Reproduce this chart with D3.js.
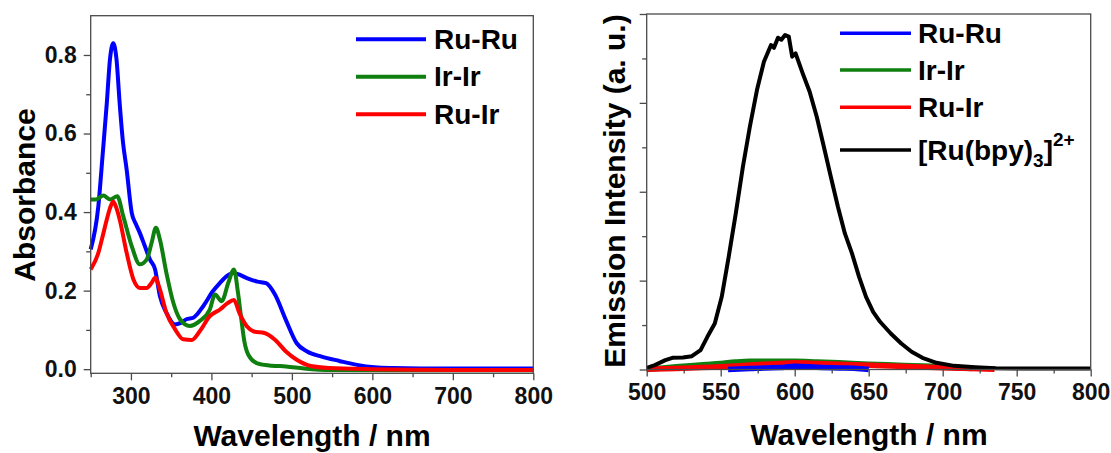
<!DOCTYPE html>
<html><head><meta charset="utf-8">
<script src="https://cdn.jsdelivr.net/npm/d3@7"></script>
<style>
html,body{margin:0;padding:0;background:#fff;}
svg{display:block;font-family:"Liberation Sans",Arial,sans-serif;font-weight:bold;}
</style></head>
<body><svg id="c" width="1111" height="453"></svg>
<script>
// ---- Absorption data (wavelength nm, absorbance) ----
const absWl_RuRu = [250,259.5,265,270,274,278,282,286,290,294.7,301,306,311,317,323.7,330,336,344,354.7,362,369,377.5,390,402,410,419,427,433,444,457,468,479,492.6,506,519,537,559,581,603,626,660,700,750,800];
const absA_RuRu  = [0.305,0.415,0.55,0.677,0.79,0.83,0.79,0.677,0.58,0.508,0.398,0.37,0.347,0.315,0.279,0.254,0.186,0.144,0.114,0.118,0.127,0.131,0.161,0.199,0.218,0.237,0.245,0.242,0.232,0.223,0.219,0.19,0.125,0.066,0.045,0.032,0.021,0.011,0.005,0.003,0.002,0.002,0.002,0.002];
const absWl_IrIr = [250,256,265.7,274,283,290.5,301,311,319.5,325.7,331,336,344,352.7,361,373,385.7,398,404.5,412.7,421,428,433,437,441,446,457,475,492.6,515,550,650,800];
const absA_IrIr  = [0.432,0.432,0.442,0.432,0.44,0.389,0.313,0.267,0.279,0.322,0.36,0.33,0.246,0.169,0.127,0.11,0.123,0.152,0.19,0.173,0.22,0.254,0.195,0.13,0.07,0.036,0.015,0.009,0.007,0.002,-0.002,-0.003,-0.003];
const absWl_RuIr = [250,259.5,265,270,274,278,282,286,294.7,303,311,319.5,325.7,330,336,344,354.7,365,375.6,385.7,398,410.7,420,428,435,444,452.7,466,479,492.6,506,523.6,546,600,700,800];
const absA_RuIr  = [0.254,0.296,0.34,0.381,0.41,0.427,0.41,0.381,0.296,0.229,0.207,0.207,0.22,0.233,0.203,0.144,0.102,0.076,0.074,0.097,0.135,0.152,0.168,0.176,0.142,0.109,0.096,0.092,0.075,0.045,0.024,0.008,0.003,0,-0.002,-0.002];

// ---- Emission data (wavelength nm, intensity a.u.) ----
const emWl_Ref = [500,505.5,512.6,517.4,524.5,530.5,536.4,541,546,550.7,555.4,560.2,565,569.7,574.5,579.2,584,586,588.7,591,593.5,596,598.3,600.6,605.4,610.1,614.9,619.7,624.4,629.2,633.9,638.7,643.5,648.2,653,657.7,664.9,672,679,686.3,695.8,707.7,722,736,750.5,774,800];
const emI_Ref  = [0.019,0.049,0.105,0.131,0.135,0.15,0.218,0.368,0.518,0.818,1.268,1.756,2.281,2.731,3.144,3.463,3.651,3.62,3.733,3.71,3.763,3.745,3.52,3.557,3.332,3.125,2.844,2.506,2.169,1.831,1.531,1.306,1.043,0.818,0.649,0.537,0.405,0.293,0.199,0.131,0.075,0.041,0.026,0.015,0.011,0.011,0.011];
const emWl_IrIr = [500,520,540,550,560,570,585,600,615,630,650,670,700,720];
const emI_IrIr  = [0.0,0.03,0.055,0.068,0.085,0.094,0.092,0.094,0.085,0.075,0.06,0.048,0.03,0.01];
const emWl_RuIr = [500,520,550,565,580,590,600,615,630,655,680,710,735];
const emI_RuIr  = [0.005,0.012,0.03,0.045,0.06,0.068,0.075,0.068,0.06,0.045,0.03,0.015,0.004];
const emWl_RuRu = [555,570,580,590,600,615,630,640,650];
const emI_RuRu  = [0.0,0.01,0.018,0.022,0.037,0.025,0.018,0.015,0.0];

// ---- ticks / labels ----
const absXTicks = [300,400,500,600,700,800];
const absXMinor = [250,350,450,550,650,750];
const absYTicks = [0.0,0.2,0.4,0.6,0.8];
const absYMinor = [0.1,0.3,0.5,0.7];
const emXTicks = [500,550,600,650,700,750,800];
const emXMinor = [525,575,625,675,725,775];
const emYTicks = [0,1,2,3,4];
const emYMinor = [0.5,1.5,2.5,3.5];

const absSeries = [
  {name:"Ru-Ru", wl:absWl_RuRu, v:absA_RuRu, color:"#0000ff"},
  {name:"Ir-Ir", wl:absWl_IrIr, v:absA_IrIr, color:"#0f7f0f"},
  {name:"Ru-Ir", wl:absWl_RuIr, v:absA_RuIr, color:"#ff0000"}
];
const emSeries = [
  {name:"Ir-Ir", wl:emWl_IrIr, v:emI_IrIr, color:"#0f7f0f"},
  {name:"Ru-Ir", wl:emWl_RuIr, v:emI_RuIr, color:"#ff0000"},
  {name:"Ru-Ru", wl:emWl_RuRu, v:emI_RuRu, color:"#0000ff"},
  {name:"ref", wl:emWl_Ref, v:emI_Ref, color:"#000000"}
];

const svg = d3.select("#c");
const axisColor = "#4a4a4a";

function frame(g, x, y){
  const [x0,x1] = x.range(), [y0,y1] = y.range();
  g.append("rect").attr("x",x0).attr("y",y1).attr("width",x1-x0).attr("height",y0-y1)
    .attr("fill","none").attr("stroke",axisColor).attr("stroke-width",1.3);
}
function drawAxes(g, x, y, xt, xm, yt, ym, yfmt, showY){
  const [x0,x1] = x.range(), [y0,y1] = y.range();
  const xa = g.append("g").attr("transform",`translate(0,${y0})`)
    .call(d3.axisBottom(x).tickValues(xt).tickSize(7).tickPadding(7).tickFormat(d3.format("d")));
  const xb = g.append("g").attr("transform",`translate(0,${y0})`)
    .call(d3.axisBottom(x).tickValues(xm).tickSize(4).tickFormat(""));
  const ya = g.append("g").attr("transform",`translate(${x0},0)`)
    .call(d3.axisLeft(y).tickValues(yt).tickSize(7).tickPadding(7).tickFormat(showY ? yfmt : ""));
  const yb = g.append("g").attr("transform",`translate(${x0},0)`)
    .call(d3.axisLeft(y).tickValues(ym).tickSize(4.5).tickFormat(""));
  [xa,xb,ya,yb].forEach(a=>{
    a.select(".domain").remove();
    a.selectAll("line").attr("stroke",axisColor).attr("stroke-width",1.3);
    a.selectAll("text").attr("fill","#111").style("font-size","23px").style("font-weight","bold")
      .style("font-family",'"Liberation Sans",Arial,sans-serif');
  });
  frame(g,x,y);
}

// ---------- Left: absorption ----------
const xA = d3.scaleLinear().domain([250,800]).range([90.7,533.3]);
const yA = d3.scaleLinear().domain([-0.0105,0.9]).range([373.3,15.7]);
const gA = svg.append("g");
const lineA = d3.line().curve(d3.curveMonotoneX);
absSeries.forEach(s=>{
  gA.append("path").attr("d", lineA(s.wl.map((w,i)=>[xA(w), yA(s.v[i])])))
    .attr("fill","none").attr("stroke",s.color).attr("stroke-width",4).attr("stroke-linejoin","round");
});
drawAxes(gA, xA, yA, absXTicks, absXMinor, absYTicks, absYMinor, d3.format(".1f"), true);
gA.append("text").attr("x",312).attr("y",446).attr("text-anchor","middle")
  .style("font-size","30px").text("Wavelength / nm");
gA.append("text").attr("transform","translate(35,195) rotate(-90)").attr("text-anchor","middle")
  .style("font-size","30px").text("Absorbance");
const legA = [39.3,76.7,114.3];
absSeries.forEach((s,i)=>{
  gA.append("line").attr("x1",356).attr("x2",426).attr("y1",legA[i]).attr("y2",legA[i])
    .attr("stroke",s.color).attr("stroke-width",4);
  gA.append("text").attr("x",434).attr("y",legA[i]+9.5).style("font-size","28px").text(s.name);
});

// ---------- Right: emission ----------
const xE = d3.scaleLinear().domain([500,800]).range([646.7,1090.7]);
const yE = d3.scaleLinear().domain([0,4]).range([369.5,14]);
const gE = svg.append("g");
const lineE = d3.line();
emSeries.forEach(s=>{
  gE.append("path").attr("d", (s.name==="ref"? lineE : d3.line().curve(d3.curveMonotoneX))(s.wl.map((w,i)=>[xE(w), yE(s.v[i])])))
    .attr("fill","none").attr("stroke",s.color).attr("stroke-width",s.name==="ref"?4:5.5).attr("stroke-linejoin","round");
});
drawAxes(gE, xE, yE, emXTicks, emXMinor, emYTicks, emYMinor, null, false);
gE.append("text").attr("x",869).attr("y",445).attr("text-anchor","middle")
  .style("font-size","30px").text("Wavelength / nm");
gE.append("text").attr("transform","translate(625,191) rotate(-90)").attr("text-anchor","middle")
  .style("font-size","30px").text("Emission Intensity (a. u.)");
const legE = [
  {name:"Ru-Ru", color:"#0000ff", y:33.3},
  {name:"Ir-Ir", color:"#0f7f0f", y:70},
  {name:"Ru-Ir", color:"#ff0000", y:107.3},
  {name:"[Ru(bpy)", color:"#000000", y:150}
];
legE.forEach((s,i)=>{
  gE.append("line").attr("x1",840).attr("x2",911).attr("y1",s.y).attr("y2",s.y)
    .attr("stroke",s.color).attr("stroke-width",3.5);
  const t = gE.append("text").attr("x",918).attr("y",s.y+9.5).style("font-size","28px");
  if(i<3){ t.text(s.name); }
  else {
    t.append("tspan").text("[Ru(bpy)");
    t.append("tspan").attr("dy",7).style("font-size","19px").text("3");
    t.append("tspan").attr("dy",-7).text("]");
    t.append("tspan").attr("dy",-14).style("font-size","19px").text("2+");
  }
});
</script></body></html>
